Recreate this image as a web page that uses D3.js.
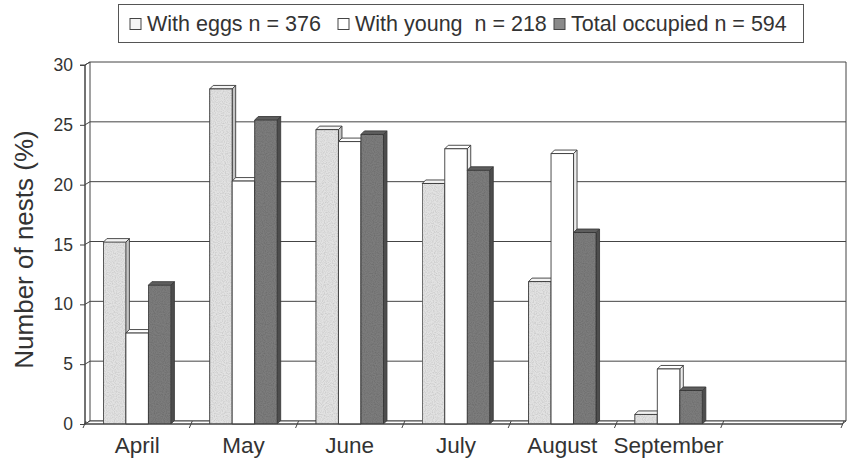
<!DOCTYPE html>
<html><head><meta charset="utf-8">
<script src="https://cdn.jsdelivr.net/npm/d3@7"></script>
<style>
body{margin:0;background:#fff}
svg{display:block;font-family:"Liberation Sans",Arial,Helvetica,sans-serif}
</style>
</head><body>
<svg id="c" width="850" height="462"></svg>
<script>
// ---- data ----
const months = ["April", "May", "June", "July", "August", "September", " "];
const seriesNames = ["With eggs n = 376", "With young  n = 218", "Total occupied n = 594"];
const withEggs = [15.2, 28.0, 24.6, 20.1, 11.9, 0.8];
const withYoung = [7.6, 20.3, 23.6, 23.0, 22.6, 4.6];
const totalOccupied = [11.6, 25.4, 24.2, 21.2, 16.0, 2.8];
const yTicks = [0, 5, 10, 15, 20, 25, 30];
const yTitle = "Number of nests (%)";

// ---- layout ----
const svg = d3.select("#c");
const ink = "#333";
const pLeft = 84, pRight = 828, axisEnd = 842, pBottom = 424, pTop = 65;
const wdx = 5, wdy = 3;       // wall depth offset
const bdx = 3.5, bdy = 3.5;   // bar depth offset

const x0 = d3.scaleBand().domain(months).range([pLeft, pRight]).paddingInner(0.365).paddingOuter(0.1825);
const xb = d3.scaleBand().domain(months).range([pLeft, pRight]).padding(0);
const x1 = d3.scaleBand().domain(seriesNames).range([0, x0.bandwidth()]).padding(0);
const y = d3.scaleLinear().domain([0, 30]).range([pBottom, pTop]);

const styles = [
  {front: "#e2e2e2", topc: "#f3f3f3", side: "#c4c4c4"},
  {front: "#ffffff", topc: "#ffffff", side: "#ececec"},
  {front: "#7c7c7c", topc: "#5e5e5e", side: "#4d4d4d"}
];

// stipple texture filter
const defs = svg.append("defs");
const f = defs.append("filter").attr("id", "grain").attr("x", 0).attr("y", 0).attr("width", 1).attr("height", 1);
f.append("feTurbulence").attr("type", "fractalNoise").attr("baseFrequency", 0.9).attr("numOctaves", 1).attr("seed", 3).attr("result", "n");
f.append("feColorMatrix").attr("in", "n").attr("type", "matrix")
  .attr("values", "0 0 0 0 0  0 0 0 0 0  0 0 0 0 0  0 0 0 0.55 -0.22").attr("result", "a");
f.append("feComposite").attr("in", "a").attr("in2", "SourceGraphic").attr("operator", "in").attr("result", "d");
f.append("feMerge").call(m => { m.append("feMergeNode").attr("in", "SourceGraphic"); m.append("feMergeNode").attr("in", "d"); });

// ---- walls & floor ----
const g = svg.append("g").attr("stroke", "#444").attr("stroke-width", 1).attr("fill", "none");
g.append("path").attr("d", `M${pLeft+1},${y(0)}L${pLeft+1+wdx},${y(0)-wdy}L${pLeft+1+wdx},${y(30)-wdy}L${pLeft+1},${y(30)}Z`).attr("fill", "#fff");
yTicks.forEach(v => {
  g.append("line").attr("x1", pLeft + 1 + wdx).attr("x2", axisEnd + 4).attr("y1", y(v) - wdy).attr("y2", y(v) - wdy);
  g.append("line").attr("x1", pLeft + 1).attr("x2", pLeft + 1 + wdx).attr("y1", y(v)).attr("y2", y(v) - wdy);
});
g.append("line").attr("x1", axisEnd + 4).attr("x2", axisEnd + 4).attr("y1", y(30) - wdy).attr("y2", y(0) - wdy);
g.append("path").attr("d", `M${pLeft+1},${y(0)}L${axisEnd},${y(0)}L${axisEnd+4},${y(0)-wdy}L${pLeft+1+wdx},${y(0)-wdy}Z`).attr("fill", "#fff");

// ---- bars ----
const data = months.slice(0, 6).flatMap((m, i) => [withEggs[i], withYoung[i], totalOccupied[i]].map((v, j) => ({m, s: seriesNames[j], j, v})));
const bars = svg.append("g").attr("stroke", "#3a3a3a").attr("stroke-width", 0.9).attr("stroke-linejoin", "round");
data.forEach(d => {
  const x = x0(d.m) + x1(d.s), w = x1.bandwidth(), yt = y(d.v), yb = y(0);
  const st = styles[d.j];
  const bg = bars.append("g");
  bg.append("path").attr("d", `M${x+w},${yt}L${x+w+bdx},${yt-bdy}L${x+w+bdx},${yb-bdy}L${x+w},${yb}Z`).attr("fill", st.side);
  bg.append("path").attr("d", `M${x},${yt}L${x+bdx},${yt-bdy}L${x+w+bdx},${yt-bdy}L${x+w},${yt}Z`).attr("fill", st.topc);
  bg.append("rect").attr("x", x).attr("y", yt).attr("width", w).attr("height", yb - yt).attr("fill", st.front)
    .attr("filter", d.j === 1 ? null : "url(#grain)");
});

// ---- axes ----
const ya = svg.append("g").attr("transform", `translate(${pLeft + 1},0)`)
  .call(d3.axisLeft(y).tickValues(yTicks).tickSize(5).tickPadding(7));
ya.select(".domain").attr("stroke", "#444").attr("d", `M-5,${y(30)}H0V${y(0)}`);
ya.selectAll(".tick line").attr("stroke", "#444");
ya.selectAll("text").attr("fill", ink).style("font-size", "17.5px").style("font-family", "'Liberation Sans',Arial,sans-serif");

const xg = svg.append("g").attr("stroke", "#444");
xg.append("line").attr("x1", pLeft).attr("x2", axisEnd).attr("y1", y(0)).attr("y2", y(0));
months.slice(1).map(m => xb(m)).concat([pLeft, axisEnd]).forEach(bx => {
  xg.append("line").attr("x1", bx - 1).attr("x2", bx + 2).attr("y1", y(0) + 4).attr("y2", y(0) - wdy);
});
const xa = svg.append("g").attr("transform", `translate(0,${y(0)})`)
  .call(d3.axisBottom(x0).tickSize(0).tickPadding(13));
xa.select(".domain").remove();
xa.selectAll("text").attr("fill", ink).style("font-size", "22.5px").style("font-family", "'Liberation Sans',Arial,sans-serif");

svg.append("text").attr("transform", `translate(33,${(y(0) + y(30)) / 2 + 5}) rotate(-90)`)
  .attr("text-anchor", "middle").attr("fill", ink).style("font-size", "26px").text(yTitle);

// ---- legend ----
const lg = svg.append("g");
lg.append("rect").attr("x", 118.5).attr("y", 4.5).attr("width", 685).attr("height", 38).attr("fill", "none").attr("stroke", "#555");
const legX = [130, 338, 554];
seriesNames.forEach((s, j) => {
  lg.append("rect").attr("x", legX[j]).attr("y", 18.5).attr("width", 11).attr("height", 11)
    .attr("fill", j === 2 ? "#8a8a8a" : (j === 0 ? "#f4f4f4" : "#fff")).attr("stroke", "#444");
  lg.append("text").attr("x", legX[j] + 17).attr("y", 31).attr("fill", ink).style("font-size", "21.5px")
    .style("white-space", "pre").text(s);
});
</script>
</body></html>
